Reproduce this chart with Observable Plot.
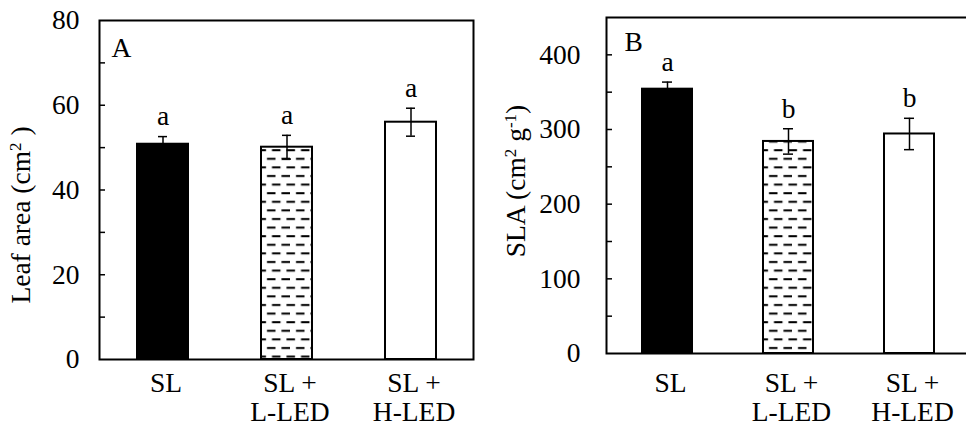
<!DOCTYPE html>
<html><head><meta charset="utf-8">
<script src="https://cdn.jsdelivr.net/npm/d3@7"></script>
<script src="https://cdn.jsdelivr.net/npm/@observablehq/plot@0.6"></script>
<style>
body{margin:0;background:#fff;}
#wrap{position:relative;width:966px;height:427px;overflow:hidden;background:#fff;}
#pa,#pb{position:absolute;top:0;}
#pa{left:0;} #pb{left:480px;}
</style></head><body><div id="wrap"><div id="pa"></div><div id="pb"></div></div>
<script>
// ---- data ----
const treatments = ["SL", "SL + L-LED", "SL + H-LED"];
const treatmentLabels = ["SL", "SL +\nL-LED", "SL +\nH-LED"];
const leafArea = [50.8, 50.1, 56.0];
const leafAreaSE = [1.8, 2.8, 3.3];
const leafAreaLetters = ["a", "a", "a"];
const leafAreaTicks = [0, 20, 40, 60, 80];
const leafAreaMinorTicks = [10, 20, 30, 40, 50, 60, 70];
const sla = [354, 284, 294];
const slaSE = [9.5, 17, 21];
const slaLetters = ["a", "b", "b"];
const slaTicks = [0, 100, 200, 300, 400];
const slaMinorTicks = [50, 100, 150, 200, 250, 300, 350, 400];

// ---- styles ----
const FONT = '"Liberation Serif", "Times New Roman", serif';
const FS = 27.5;

function panel(el, cfg) {
  const fills = ["black", `url(#${cfg.patternId})`, "white"];
  const rows = treatments.map((t, i) => ({
    t, label: treatmentLabels[i], v: cfg.values[i],
    lo: cfg.values[i] - cfg.se[i], hi: cfg.values[i] + cfg.se[i],
    letter: cfg.letters[i], fill: fills[i]
  }));
  const plot = Plot.plot({
    width: cfg.width, height: 427,
    marginLeft: cfg.marginLeft, marginRight: cfg.marginRight,
    marginTop: cfg.marginTop, marginBottom: cfg.marginBottom,
    style: {fontFamily: FONT, fontSize: FS + "px", color: "black", background: "white", maxWidth: "none"},
    x: {domain: treatments, axis: null, paddingInner: 0.59, paddingOuter: 0.295},
    y: {domain: [0, cfg.ymax]},
    color: {type: "identity"},
    marks: [
      Plot.barY(rows, {x: "t", y: "v", fill: "fill", stroke: "black", strokeWidth: 2}),
      Plot.ruleX(rows, {x: "t", y1: "lo", y2: "hi", stroke: "black", strokeWidth: 1.5}),
      Plot.tickY(rows, {x: "t", y: "lo", inset: cfg.capInset, stroke: "black", strokeWidth: 1.5}),
      Plot.tickY(rows, {x: "t", y: "hi", inset: cfg.capInset, stroke: "black", strokeWidth: 1.5}),
      Plot.text(rows, {x: "t", y: "hi", text: "letter", dy: -20, fontSize: FS, fill: "black"}),
      Plot.text(rows, {x: "t", text: "label", frameAnchor: "bottom", lineAnchor: "top", dy: cfg.xLabelDy, dx: 3, lineHeight: 1.05, fontSize: FS, fill: "black"}),
      Plot.axisY(cfg.ticks, {tickSize: 0, tickPadding: cfg.tickPadding, fontSize: FS, label: null, fill: "black"}),
      Plot.axisY(cfg.minor, {tickSize: 6, dx: 6, fill: "none", stroke: "black", strokeWidth: 1.5, label: null}),
      Plot.text([cfg.panelLabel], {frameAnchor: "top-left", textAnchor: "start", lineAnchor: "top", dx: cfg.panelDx, dy: cfg.panelDy, fontSize: FS, fill: "black"}),
      Plot.frame({stroke: "black", strokeWidth: 2})
    ]
  });
  // dash pattern for the SL + L-LED bar
  const xs = plot.scale("x");
  const x0 = xs.apply(treatments[1]);
  const defs = d3.select(plot).insert("defs", ":first-child");
  const p = defs.append("pattern").attr("id", cfg.patternId)
    .attr("patternUnits", "userSpaceOnUse").attr("width", 14.5).attr("height", 17.2)
    .attr("x", x0).attr("y", 0);
  p.append("rect").attr("width", 14.5).attr("height", 17.2).attr("fill", "white");
  p.append("rect").attr("x", 6).attr("y", 3).attr("width", 8.5).attr("height", 2).attr("fill", "black");
  p.append("rect").attr("x", 0).attr("y", 11.6).attr("width", 5).attr("height", 2).attr("fill", "black");
  p.append("rect").attr("x", 11).attr("y", 11.6).attr("width", 3.5).attr("height", 2).attr("fill", "black");
  // y-axis title with superscripts
  const t = d3.select(plot).append("text")
    .attr("transform", `translate(${cfg.titleX},${cfg.titleY}) rotate(-90)`)
    .attr("text-anchor", "middle").attr("fill", "black")
    .style("font-family", FONT).style("font-size", FS + "px");
  cfg.title.forEach(([s, sup]) => {
    const ts = t.append("tspan").text(s);
    if (sup) ts.attr("baseline-shift", "super").style("font-size", (FS * 0.62) + "px");
  });
  el.appendChild(plot);
}

panel(document.getElementById("pa"), {
  values: leafArea, se: leafAreaSE, letters: leafAreaLetters,
  ticks: leafAreaTicks, minor: leafAreaMinorTicks, ymax: 80,
  width: 480, marginLeft: 99, marginRight: 7, marginTop: 20, marginBottom: 68,
  capInset: 21, tickPadding: 20, xLabelDy: 12, panelLabel: "A", panelDx: 12, panelDy: 17,
  patternId: "dashA", titleX: 30, titleY: 215,
  title: [["Leaf area (cm"], ["2", true], [" )"]]
});
panel(document.getElementById("pb"), {
  values: sla, se: slaSE, letters: slaLetters,
  ticks: slaTicks, minor: slaMinorTicks, ymax: 450,
  width: 492, marginLeft: 126, marginRight: 3, marginTop: 17, marginBottom: 74,
  capInset: 20, tickPadding: 26, xLabelDy: 18, panelLabel: "B", panelDx: 18, panelDy: 14,
  patternId: "dashB", titleX: 44.5, titleY: 181,
  title: [["SLA (cm"], ["2", true], [" g"], ["-1", true], [")"]]
});
</script></body></html>
